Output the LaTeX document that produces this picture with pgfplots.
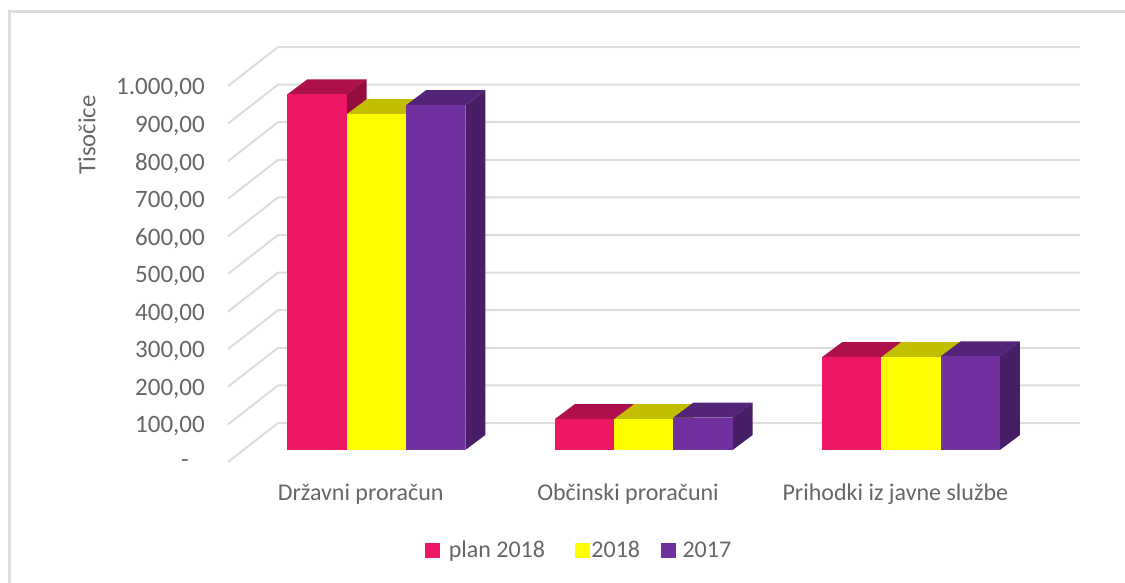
\documentclass[border=0pt]{standalone}
\usepackage{pgfplots}
\pgfplotsset{compat=1.18}
\usepackage{fontspec}
\setmainfont{Carlito}
\definecolor{txt}{HTML}{666666}
\definecolor{gridc}{HTML}{DDDDDD}
\definecolor{planF}{HTML}{ED1766}
\definecolor{planT}{HTML}{AE104C}
\definecolor{planS}{HTML}{950C3F}
\definecolor{yelF}{HTML}{FFFF00}
\definecolor{yelT}{HTML}{C4BE00}
\definecolor{yelS}{HTML}{A8A400}
\definecolor{purF}{HTML}{7030A0}
\definecolor{purT}{HTML}{522378}
\definecolor{purS}{HTML}{481F66}
% one 3D box: group, series index, value, colour prefix
\newcommand{\barbox}[4]{%
  \pgfmathsetmacro{\xa}{#1+(#2-1.5)*0.2218+0.055}%
  \pgfmathsetmacro{\xb}{\xa+0.2218}%
  \pgfmathsetmacro{\xc}{\xb+0.0748}%
  \pgfmathsetmacro{\xd}{\xa+0.0748}%
  \pgfmathsetmacro{\ya}{31.9}%
  \pgfmathsetmacro{\yb}{#3+31.9}%
  \pgfmathsetmacro{\yc}{\yb+39.9}%
  \pgfmathsetmacro{\yd}{\ya+39.9}%
  \edef\tmp{\noexpand\addplot[fill=#4T,draw=none,forget plot] coordinates {(\xa,\yb)(\xb,\yb)(\xc,\yc)(\xd,\yc)} --cycle;
  \noexpand\addplot[fill=#4S,draw=none,forget plot] coordinates {(\xb,\ya)(\xc,\yd)(\xc,\yc)(\xb,\yb)} --cycle;
  \noexpand\addplot[fill=#4F,draw=none,forget plot] coordinates {(\xa,\ya)(\xb,\ya)(\xb,\yb)(\xa,\yb)} --cycle;}%
  \tmp
}
\begin{document}
\begin{tikzpicture}[x=1pt,y=1pt]
\path[use as bounding box] (0,0) rectangle (1125,583);
\draw[gridc,line width=3pt] (9.5,-5) -- (9.5,571.5) -- (1130,571.5);
\begin{axis}[
  at={(228pt,121pt)},anchor=south west,
  scale only axis,width=802pt,height=413.6pt,
  xmin=-0.5,xmax=2.5,ymin=0,ymax=1100,
  clip=false,
  axis line style={draw=none},
  major tick length=0pt,
  tick style={draw=none},
  xtick={0,1,2},
  xticklabels={Državni proračun,Občinski proračuni,Prihodki iz javne službe},
  ytick={0,100,...,1000},
  yticklabels={\raisebox{-5pt}{-}\kern16pt,{100,00},{200,00},{300,00},{400,00},{500,00},{600,00},{700,00},{800,00},{900,00},{1.000,00}},
  ticklabel style={text=txt},
  yticklabel style={font=\fontsize{25}{28}\selectfont,xshift=-23pt,yshift=-2pt},
  xticklabel style={font=\fontsize{24}{28}\selectfont,yshift=-22pt,xshift=-1pt},
  tick label style={inner sep=0pt},
  ylabel={Tisočice},
  every axis y label/.style={at={(axis cs:-0.5,870)},anchor=center,rotate=90,yshift=141pt,
    font=\fontsize{24.7}{28}\selectfont,text=txt},
  legend style={at={(0.438,-0.2128)},anchor=center,draw=none,fill=none,legend columns=3,
    font=\fontsize{24}{28}\selectfont,text=txt,
    /tikz/every even column/.append style={column sep=0pt}},
  legend cell align=left,
]
\pgfplotsset{gline/.style={gridc,line width=2pt,forget plot}}
\addplot[gline] coordinates {(-0.5,0)(-0.313,103.7)(2.687,103.7)};
\addplot[gline] coordinates {(-0.5,100)(-0.313,203.7)(2.687,203.7)};
\addplot[gline] coordinates {(-0.5,200)(-0.313,303.7)(2.687,303.7)};
\addplot[gline] coordinates {(-0.5,300)(-0.313,403.7)(2.687,403.7)};
\addplot[gline] coordinates {(-0.5,400)(-0.313,503.7)(2.687,503.7)};
\addplot[gline] coordinates {(-0.5,500)(-0.313,603.7)(2.687,603.7)};
\addplot[gline] coordinates {(-0.5,600)(-0.313,703.7)(2.687,703.7)};
\addplot[gline] coordinates {(-0.5,700)(-0.313,803.7)(2.687,803.7)};
\addplot[gline] coordinates {(-0.5,800)(-0.313,903.7)(2.687,903.7)};
\addplot[gline] coordinates {(-0.5,900)(-0.313,1003.7)(2.687,1003.7)};
\addplot[gline] coordinates {(-0.5,1000)(-0.313,1103.7)(2.687,1103.7)};
% Državni proračun
\barbox{0}{0}{946}{plan}
\barbox{0}{1}{893}{yel}
\barbox{0}{2}{917}{pur}
% Občinski proračuni
\barbox{1}{0}{82}{plan}
\barbox{1}{1}{82}{yel}
\barbox{1}{2}{86}{pur}
% Prihodki iz javne službe
\barbox{2}{0}{247}{plan}
\barbox{2}{1}{247}{yel}
\barbox{2}{2}{249}{pur}
\addlegendimage{legend image code/.code={\fill[planF] (0pt,-7pt) rectangle (14pt,7pt);}}
\addlegendentry{\kern7pt plan 2018\kern28pt}
\addlegendimage{legend image code/.code={\fill[yelF] (0pt,-7pt) rectangle (14pt,7pt);}}
\addlegendentry{\kern0pt 2018\kern19pt}
\addlegendimage{legend image code/.code={\fill[purF] (0pt,-7pt) rectangle (14pt,7pt);}}
\addlegendentry{\kern5pt 2017}
\end{axis}
\end{tikzpicture}
\end{document}
